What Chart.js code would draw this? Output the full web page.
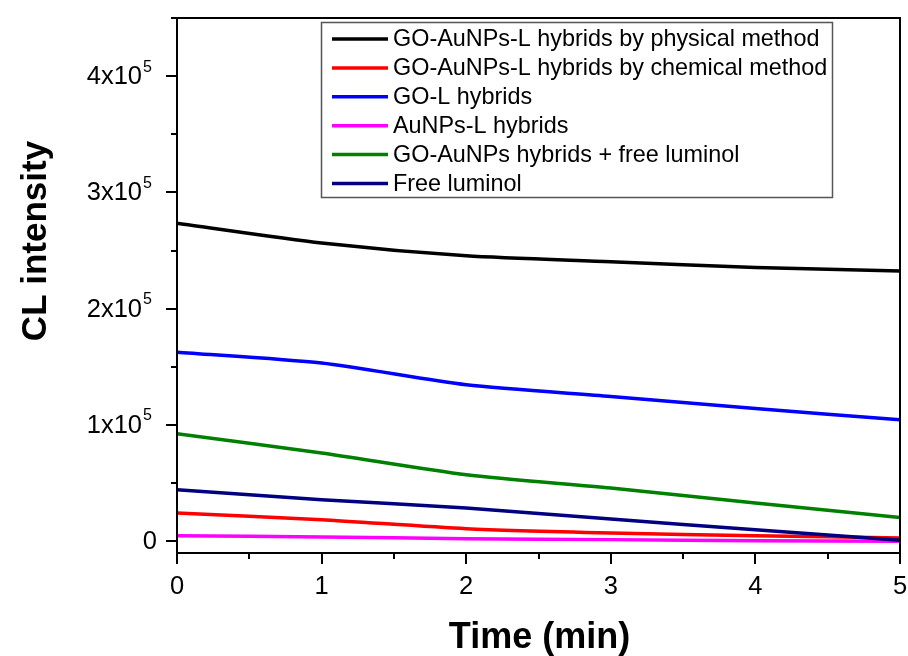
<!DOCTYPE html>
<html>
<head>
<meta charset="utf-8">
<script src="https://cdn.jsdelivr.net/npm/chart.js@4.4.1/dist/chart.umd.min.js"></script>
<style>
  html, body { margin: 0; padding: 0; background: #fff; }
  canvas { display: block; }
</style>
</head>
<body>
<canvas id="cl-chart" width="908" height="656"></canvas>
<script>
const times = [0, 1, 2, 3, 4, 5];

const physicalMethod = [273500, 256500, 245500, 240500, 235500, 232500];
const chemicalMethod = [24400, 18600, 10900, 7200, 4900, 3000];
const goL = [162700, 153300, 134600, 124600, 114300, 104500];
const auNPsL = [4900, 3800, 2300, 1500, 600, 0];
const goAuNPsFree = [92500, 76000, 57300, 45900, 33000, 20600];
const freeLuminol = [44400, 35800, 28700, 19200, 10000, 1000];

const seriesLabels = [
    'GO-AuNPs-L hybrids by physical method',
    'GO-AuNPs-L hybrids by chemical method',
    'GO-L hybrids',
    'AuNPs-L hybrids',
    'GO-AuNPs hybrids + free luminol',
    'Free luminol'
];
const seriesValues = [physicalMethod, chemicalMethod, goL, auNPsL, goAuNPsFree, freeLuminol];
const seriesColors = ['#000000', '#ff0000', '#0000ff', '#ff00ff', '#008000', '#000080'];

const xTicks = [0, 1, 2, 3, 4, 5];
const yTicks = [0, 100000, 200000, 300000, 400000];
const yTickMantissa = ['0', '1', '2', '3', '4'];
const yExponent = '5';

const FONT = '"Liberation Sans", Arial, sans-serif';

// axes box, ticks, labels, titles and the framed legend
const framePlugin = {
    id: 'frame',
    afterDraw(chart) {
        const ctx = chart.ctx;
        const area = chart.chartArea;
        const xs = chart.scales.x;
        const ys = chart.scales.y;
        ctx.save();
        ctx.strokeStyle = '#000';
        ctx.lineWidth = 2;
        ctx.strokeRect(area.left, area.top, area.right - area.left, area.bottom - area.top);

        // y ticks
        for (let v = 0; v <= 450000; v += 50000) {
            const y = Math.round(ys.getPixelForValue(v));
            const len = (v % 100000 === 0) ? 11 : 6;
            ctx.beginPath();
            ctx.moveTo(area.left - len, y);
            ctx.lineTo(area.left, y);
            ctx.stroke();
        }
        // x ticks
        for (let t = 0; t <= 5; t += 0.5) {
            const x = Math.round(xs.getPixelForValue(t));
            const len = (t % 1 === 0) ? 11 : 6;
            ctx.beginPath();
            ctx.moveTo(x, area.bottom);
            ctx.lineTo(x, area.bottom + len);
            ctx.stroke();
        }

        ctx.fillStyle = '#000';
        ctx.textBaseline = 'middle';
        // y labels with superscript exponent
        yTicks.forEach((v, i) => {
            const y = ys.getPixelForValue(v) + 1;
            ctx.font = '25.5px ' + FONT;
            ctx.textAlign = 'right';
            if (v === 0) {
                ctx.fillText(yTickMantissa[i], 157, y);
            } else {
                ctx.fillText(yTickMantissa[i] + 'x10', 142, y);
                ctx.font = '16px ' + FONT;
                ctx.textAlign = 'left';
                ctx.fillText(yExponent, 143, y - 10);
            }
        });
        // x labels
        ctx.font = '25.5px ' + FONT;
        ctx.textAlign = 'center';
        xTicks.forEach(t => {
            ctx.fillText(String(t), xs.getPixelForValue(t), 587);
        });

        // axis titles
        ctx.font = 'bold 36px ' + FONT;
        ctx.textAlign = 'center';
        ctx.textBaseline = 'alphabetic';
        ctx.fillText('Time (min)', (area.left + area.right) / 2 + 1, 648);
        ctx.font = 'bold 35px ' + FONT;
        ctx.save();
        ctx.translate(46, 241);
        ctx.rotate(-Math.PI / 2);
        ctx.fillText('CL intensity', 0, 0);
        ctx.restore();

        // legend
        ctx.strokeStyle = '#555';
        ctx.lineWidth = 1.5;
        ctx.strokeRect(321.5, 22.5, 511, 175);
        ctx.font = '23.4px ' + FONT;
        ctx.textAlign = 'left';
        ctx.textBaseline = 'middle';
        chart.data.datasets.forEach((ds, i) => {
            const y = 39 + i * 28.9;
            ctx.strokeStyle = ds.borderColor;
            ctx.lineWidth = 3.5;
            ctx.beginPath();
            ctx.moveTo(332, y);
            ctx.lineTo(388, y);
            ctx.stroke();
            ctx.fillStyle = '#000';
            ctx.fillText(ds.label, 393, y + 1);
        });
        ctx.restore();
    }
};

const datasets = seriesLabels.map((label, i) => ({
    label: label,
    data: times.map((t, j) => ({ x: t, y: seriesValues[i][j] })),
    borderColor: seriesColors[i],
    backgroundColor: seriesColors[i],
    borderWidth: 3.5,
    pointRadius: 0,
    tension: 0.25,
    fill: false,
    order: seriesLabels.length - i
}));

new Chart(document.getElementById('cl-chart').getContext('2d'), {
    type: 'line',
    data: { datasets: datasets },
    options: {
        responsive: false,
        animation: false,
        layout: { padding: { top: 18, right: 8, left: 0, bottom: 0 } },
        plugins: {
            legend: { display: false },
            tooltip: { enabled: false }
        },
        scales: {
            x: {
                type: 'linear',
                min: 0,
                max: 5,
                grid: { display: false },
                border: { display: false },
                ticks: { display: false },
                afterFit: s => { s.height = 103; }
            },
            y: {
                type: 'linear',
                min: -10000,
                max: 450000,
                grid: { display: false },
                border: { display: false },
                ticks: { display: false },
                afterFit: s => { s.width = 177; }
            }
        }
    },
    plugins: [framePlugin]
});
</script>
</body>
</html>
